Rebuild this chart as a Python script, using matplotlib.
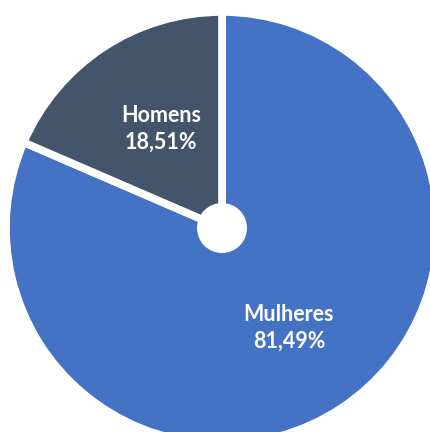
import matplotlib
matplotlib.use("Agg")
import matplotlib.pyplot as plt
from matplotlib.patches import Circle

labels = ["Mulheres", "Homens"]
values = [81.49, 18.51]
value_text = ["81,49%", "18,51%"]
colors = ["#4472C4", "#44546A"]

W, H = 431, 432
fig = plt.figure(figsize=(W / 100, H / 100), dpi=100)
ax = fig.add_axes([0, 0, 1, 1])

cx, cy, R = 222, H - 228, 216
wedges, _ = ax.pie(values, colors=colors, startangle=90, counterclock=False,
                   center=(cx, cy), radius=R, frame=True,
                   wedgeprops=dict(edgecolor="white", linewidth=5.5))
ax.set_xlim(0, W)
ax.set_ylim(0, H)
ax.axis("off")
ax.add_patch(Circle((cx, cy), 25, facecolor="white", edgecolor="none", zorder=5))

pos = [(289, H - 328), (161, H - 129)]
for (x, y), lab, vt in zip(pos, labels, value_text):
    ax.text(x, y, f"{lab}\n{vt}", ha="center", va="center", color="white",
            fontsize=15.5, fontweight="bold", family=["Lato", "DejaVu Sans"],
            linespacing=1.3, zorder=6)

fig.savefig("out.png", dpi=100)
